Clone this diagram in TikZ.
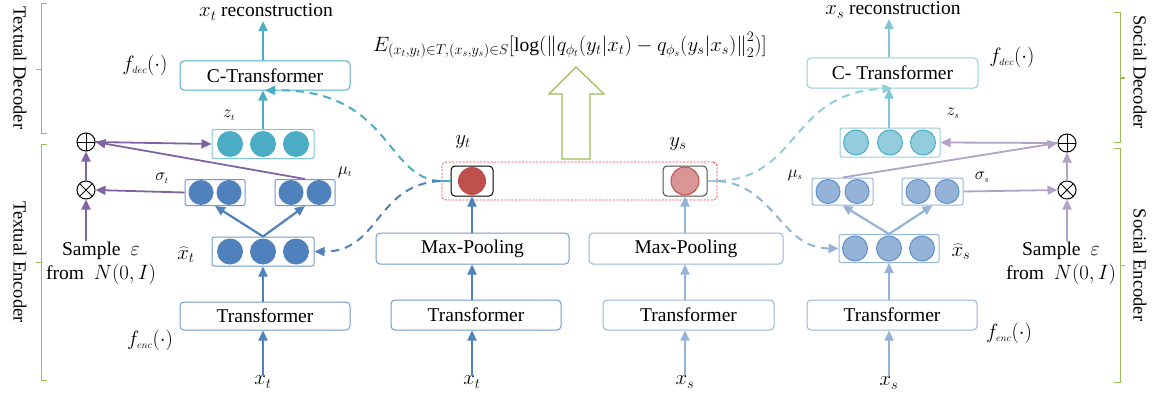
\documentclass[tikz,border=0pt]{standalone}
\usepackage{fontspec}
\setmainfont{Liberation Serif}
\usetikzlibrary{arrows.meta,calc}
\definecolor{tblue}{HTML}{4F81BD}
\definecolor{tblueb}{HTML}{6F9BD2}
\definecolor{sblue}{HTML}{95B3D7}
\definecolor{sblueb}{HTML}{5F8FCB}
\definecolor{tteal}{HTML}{4BACC6}
\definecolor{steal}{HTML}{93CDDD}
\definecolor{tpurple}{HTML}{8064A2}
\definecolor{spurple}{HTML}{B3A2C7}
\definecolor{bgreen}{HTML}{9BBB59}
\definecolor{yred}{HTML}{C0504D}
\definecolor{yredl}{HTML}{D99694}
\begin{document}
\begin{tikzpicture}[x=1pt,y=-1pt,
  lbl/.style={font=\fontsize{19.5}{22}\selectfont, inner sep=1pt},
  glbl/.style={font=\fontsize{18}{20}\selectfont, inner sep=1pt},
  sidelbl/.style={font=\fontsize{18.5}{20}\selectfont, rotate=-90, inner sep=0pt},
  box/.style={draw, rounded corners=4pt, line width=1pt, inner sep=0pt, font=\fontsize{19.5}{22}\selectfont},
  vbox/.style={draw, rounded corners=2pt, line width=1pt, inner sep=0pt},
  dot/.style={circle, inner sep=0pt, minimum size=26pt},
  sdot/.style={circle, inner sep=0pt, minimum size=25pt},
  arr/.style={line width=2.2pt, -{Triangle[length=10pt,width=9pt]}},
  parr/.style={line width=1.8pt, -{Triangle[length=10pt,width=9pt]}},
  darr/.style={line width=2pt, dash pattern=on 8pt off 6pt, -{Triangle[length=10pt,width=9pt]}},
  brk/.style={draw=bgreen, line width=1pt},
  opl/.style={circle, draw, line width=1pt, minimum size=18pt, inner sep=0pt,
    path picture={\draw[line width=1pt] (path picture bounding box.north) -- (path picture bounding box.south) (path picture bounding box.west) -- (path picture bounding box.east);}},
  otm/.style={circle, draw, line width=1pt, minimum size=18pt, inner sep=0pt,
    path picture={\draw[line width=1pt] (path picture bounding box.north west) -- (path picture bounding box.south east) (path picture bounding box.south west) -- (path picture bounding box.north east);}},
]
\useasboundingbox (0,0) rectangle (1159,396);

% ---------------- side brackets ----------------
\draw[brk] (47,4) -- (41,4) -- (41,133) -- (47,133) (41,70) -- (36,70);
\draw[brk] (47,144) -- (41,144) -- (41,380) -- (47,380) (41,262) -- (36,262);
\draw[brk] (1114,13) -- (1120,13) -- (1120,142) -- (1114,142) (1120,78) -- (1125,78);
\draw[brk] (1114,148) -- (1120,148) -- (1120,382) -- (1114,382) (1120,265) -- (1125,265);
\node[sidelbl] (tdec) at (20,68) {Textual Decoder};
\node[sidelbl] (tenc) at (20,262) {Textual Encoder};
\node[sidelbl] (sdec) at (1140,72) {Social Decoder};
\node[sidelbl] (senc) at (1140,265) {Social Encoder};

% ---------------- textual (left) ----------------
\node[lbl] (recT) at (266,12) {$x_t$ reconstruction};
\node[box, draw=tteal, minimum width=170pt, minimum height=29pt] (cdecT) at (265,75.5) {C-Transformer};
\node[lbl] (fdecT) at (145,65) {$f_{\scriptscriptstyle dec}\bigl(\cdot\bigr)$};
\node[glbl] (zTl) at (229,115) {$z_{\scriptscriptstyle t}$};
\node[vbox, draw=tteal!70, minimum width=102pt, minimum height=29pt] (zT) at (263,144) {};
\node[dot, fill=tteal] (zT1) at (230,144) {};
\node[dot, fill=tteal] (zT2) at (263,144) {};
\node[dot, fill=tteal] (zT3) at (296,144) {};

\node[opl] (plusT) at (86,142) {};
\node[otm] (timesT) at (86,190) {};

\node[vbox, draw=tblueb, minimum width=60pt, minimum height=26pt] (sigT) at (215,192.5) {};
\node[sdot, fill=tblue] (sigT1) at (201,192.5) {};
\node[sdot, fill=tblue] (sigT2) at (229,192.5) {};
\node[vbox, draw=tblueb, minimum width=60pt, minimum height=26pt] (muT) at (305,192.5) {};
\node[sdot, fill=tblue] (muT1) at (291,192.5) {};
\node[sdot, fill=tblue] (muT2) at (319,192.5) {};
\node[glbl] (sigTl) at (162,178) {$\sigma_{\scriptscriptstyle t}$};
\node[glbl] (muTl) at (345,172) {$\mu_{\scriptscriptstyle t}$};

\node[vbox, draw=tblueb, minimum width=102pt, minimum height=29pt] (xhT) at (263,251.5) {};
\node[dot, fill=tblue] (xhT1) at (230,251.5) {};
\node[dot, fill=tblue] (xhT2) at (263,251.5) {};
\node[dot, fill=tblue] (xhT3) at (296,251.5) {};
\node[lbl] (xhTl) at (186,255) {$\widehat{x}_t$};

\node[box, draw=tblueb, minimum width=170pt, minimum height=28pt] (trT) at (265,316) {Transformer};
\node[lbl] (fencT) at (150,340) {$f_{\scriptscriptstyle enc}\bigl(\cdot\bigr)$};
\node[lbl] (xT) at (263,382) {$x_t$};

\node[lbl, align=center] (sampT) at (101,263) {Sample\ \ $\varepsilon$\\[2pt] from\ \ $N\bigl(0,I\bigr)$};

\draw[arr, tblue] (xT.north) -- (xT.north |- trT.south);
\draw[arr, tblue] (xT.north |- trT.north) -- (xhT.south);
\draw[arr, tblue] (xhT.north) -- (sigT.south);
\draw[arr, tblue] (xhT.north) -- (muT.south);
\draw[arr, tteal] (zT.north) -- (zT.north |- cdecT.south);
\draw[arr, tteal] (zT.north |- cdecT.north) -- (recT.south -| zT.north);
\draw[parr, tpurple] (sigT.west) -- (timesT.east);
\coordinate (sampTt) at ($(sampT.north -| timesT.south)+(0,1)$);
\draw[parr, tpurple] (sampTt) -- (timesT.south);
\draw[parr, tpurple] (timesT.north) -- (plusT.south);
\draw[parr, tpurple] (plusT.east) -- (zT.west);
\draw[parr, tpurple] (muT.north) -- (plusT.east);

% ---------------- central ----------------
\node[font=\fontsize{19.6}{22}\selectfont, inner sep=0pt] (loss) at (570,45)
  {$E_{(x_t,y_t)\in T,(x_s,y_s)\in S}[\mathrm{log}(\left\|q_{\phi_t}(y_t|x_t)-q_{\phi_s}(y_s|x_s)\right\|_2^2)]$};
\draw[draw=bgreen, line width=1.2pt, fill=white] (562,159) -- (562,94) -- (549,94) -- (576,67) -- (604,94) -- (590,94) -- (590,159) -- cycle;

\node[draw=red!80, dash pattern=on 2pt off 1.5pt, line width=0.8pt, rounded corners=4pt,
      minimum width=275pt, minimum height=38pt, inner sep=0pt] (ybox) at (579.5,181) {};
\node[draw=black, line width=1pt, rounded corners=4pt, minimum width=42pt, minimum height=30pt, inner sep=0pt] (yT) at (472,181) {};
\node[circle, fill=yred, minimum size=28pt, inner sep=0pt] (yTc) at (472,181) {};
\node[draw=black!70, line width=1pt, rounded corners=4pt, minimum width=44pt, minimum height=30pt, inner sep=0pt] (yS) at (685,181) {};
\node[circle, fill=yredl, draw=yred, line width=1pt, minimum size=28pt, inner sep=0pt] (ySc) at (685,181) {};
\node[lbl] (yTl) at (463,142) {$y_t$};
\node[lbl] (ySl) at (678,144) {$y_s$};

\node[box, draw=tblueb, minimum width=193pt, minimum height=31pt] (mpT) at (472.5,248.5) {Max-Pooling};
\node[box, draw=sblue, minimum width=194pt, minimum height=31pt] (mpS) at (686,248.5) {Max-Pooling};
\node[box, draw=tblueb, minimum width=170pt, minimum height=30pt] (trM) at (476,315) {Transformer};
\node[box, draw=sblue, minimum width=171pt, minimum height=30pt] (trN) at (688.5,315) {Transformer};
\node[lbl] (xTm) at (472,382) {$x_t$};
\node[lbl] (xSm) at (685,382) {$x_s$};

\draw[arr, tblue] (xTm.north) -- (xTm.north |- trM.south);
\draw[arr, tblue] (xTm.north |- trM.north) -- (xTm.north |- mpT.south);
\draw[arr, tblue] (xTm.north |- mpT.north) -- (yT.south);
\draw[arr, sblue] (xSm.north) -- (xSm.north |- trN.south);
\draw[arr, sblue] (xSm.north |- trN.north) -- (xSm.north |- mpS.south);
\draw[arr, sblue] (xSm.north |- mpS.north) -- (yS.south);

\coordinate (yTo) at (440,181);
\coordinate (ySo) at (718,181);
\draw[line width=2pt, tteal] (yT.west) -- (yTo);
\draw[line width=2pt, steal] (yS.east) -- (ySo);

% ---------------- social (right) ----------------
\node[lbl] (recS) at (893,10) {$x_s$ reconstruction};
\node[box, draw=steal, minimum width=171pt, minimum height=30pt] (cdecS) at (892.5,73) {C- Transformer};
\node[lbl] (fdecS) at (1012,57) {$f_{\scriptscriptstyle dec}\bigl(\cdot\bigr)$};
\node[glbl] (zSl) at (953,113) {$z_{\scriptscriptstyle s}$};
\node[vbox, draw=steal, minimum width=100pt, minimum height=29pt] (zS) at (890,142.5) {};
\node[dot, fill=steal, draw=tteal, line width=1pt, minimum size=25pt] (zS1) at (856,142.5) {};
\node[dot, fill=steal, draw=tteal, line width=1pt, minimum size=25pt] (zS2) at (890,142.5) {};
\node[dot, fill=steal, draw=tteal, line width=1pt, minimum size=25pt] (zS3) at (923,142.5) {};

\node[opl] (plusS) at (1067,143) {};
\node[otm] (timesS) at (1067,190) {};

\node[vbox, draw=sblue, minimum width=61pt, minimum height=27pt] (muS) at (842.5,191.5) {};
\node[sdot, fill=sblue, draw=sblueb, line width=1pt, minimum size=24pt] (muS1) at (828,191.5) {};
\node[sdot, fill=sblue, draw=sblueb, line width=1pt, minimum size=24pt] (muS2) at (857,191.5) {};
\node[vbox, draw=sblue, minimum width=61pt, minimum height=27pt] (sigS) at (932.5,191.5) {};
\node[sdot, fill=sblue, draw=sblueb, line width=1pt, minimum size=24pt] (sigS1) at (918,191.5) {};
\node[sdot, fill=sblue, draw=sblueb, line width=1pt, minimum size=24pt] (sigS2) at (947,191.5) {};
\node[glbl] (muSl) at (795,175) {$\mu_{\scriptscriptstyle s}$};
\node[glbl] (sigSl) at (982,177) {$\sigma_{\scriptscriptstyle s}$};

\node[vbox, draw=sblue, minimum width=100pt, minimum height=28pt] (xhS) at (889,248.5) {};
\node[dot, fill=sblue, draw=sblueb, line width=1pt, minimum size=25pt] (xhS1) at (855,248.5) {};
\node[dot, fill=sblue, draw=sblueb, line width=1pt, minimum size=25pt] (xhS2) at (889,248.5) {};
\node[dot, fill=sblue, draw=sblueb, line width=1pt, minimum size=25pt] (xhS3) at (922,248.5) {};
\node[lbl] (xhSl) at (961,252) {$\widehat{x}_s$};

\node[box, draw=sblue, minimum width=170pt, minimum height=30pt] (trS) at (892,315) {Transformer};
\node[lbl] (fencS) at (1009,333) {$f_{\scriptscriptstyle enc}\bigl(\cdot\bigr)$};
\node[lbl] (xS) at (889,383) {$x_s$};
\node[lbl, align=center] (sampS) at (1061,263) {Sample\ \ $\varepsilon$\\[2pt] from\ \ $N\bigl(0,I\bigr)$};

\draw[arr, sblue] (xS.north) -- (xS.north |- trS.south);
\draw[arr, sblue] (xS.north |- trS.north) -- (xS.north |- xhS.south);
\draw[arr, sblue] (xhS.north) -- (muS.south);
\draw[arr, sblue] (xhS.north) -- (sigS.south);
\draw[arr, tteal!70] (xS.north |- zS.north) -- (xS.north |- cdecS.south);
\draw[arr, tteal!70] (xS.north |- cdecS.north) -- (xS.north |- recS.south);
\draw[parr, spurple] (sigS.east) -- (timesS.west);
\coordinate (sampSt) at ($(sampS.north -| timesS.south)+(0,1)$);
\draw[parr, spurple] (sampSt) -- (timesS.south);
\draw[parr, spurple] (timesS.north) -- (plusS.south);
\draw[parr, spurple] (plusS.west) -- (zS.east);
\draw[parr, spurple] (muS.north) -- (plusS.west);

% ---------------- dashed links ----------------
\draw[darr, tteal] (yTo) .. controls (385,178) and (390,88) .. (cdecT.south);
\draw[darr, tblue] (yTo) .. controls (375,185) and (380,252) .. (xhT.east);
\draw[darr, steal] (ySo) .. controls (800,178) and (790,92) .. (cdecS.south);
\draw[darr, sblue] (ySo) .. controls (775,185) and (780,248) .. (xhS.west);
\end{tikzpicture}
\end{document}
